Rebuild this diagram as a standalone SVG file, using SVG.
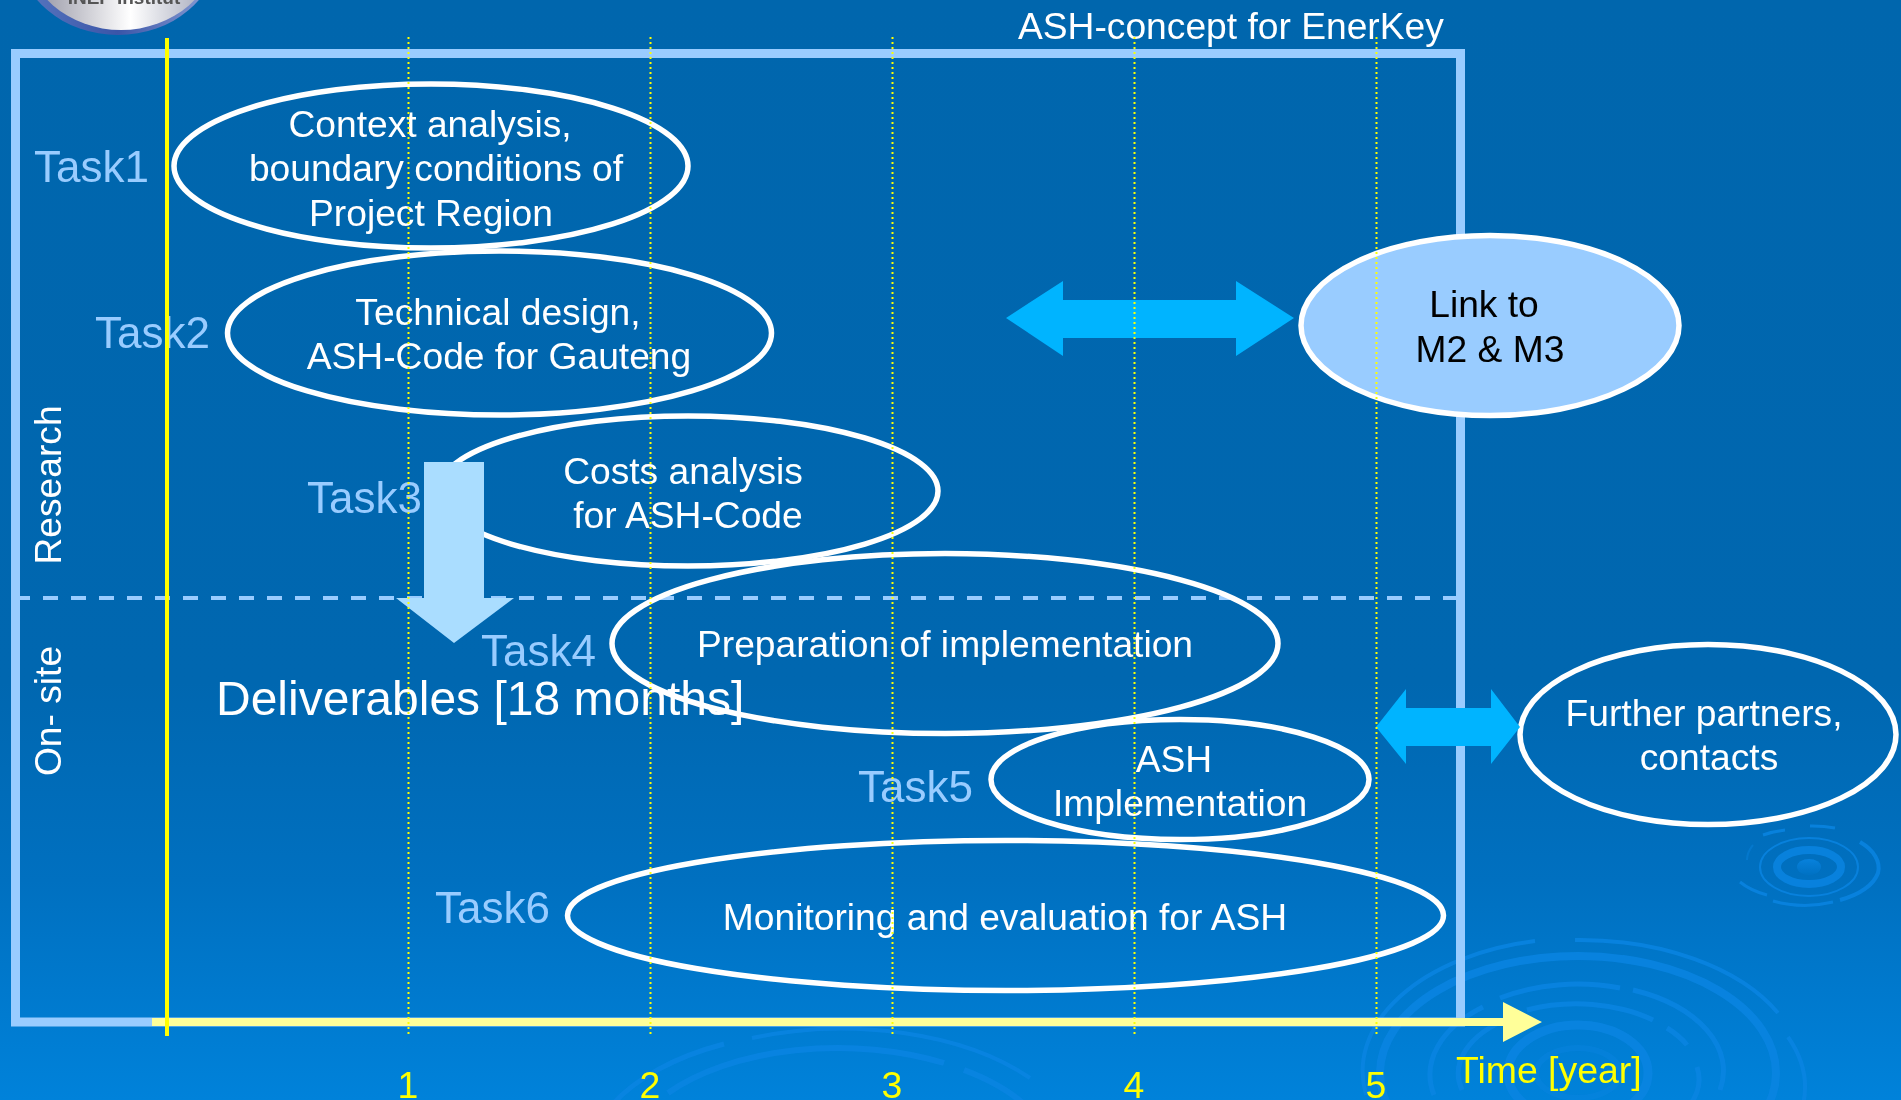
<svg xmlns="http://www.w3.org/2000/svg" width="1901" height="1100" viewBox="0 0 1901 1100">
<defs>
<linearGradient id="bg" x1="0" y1="0" x2="0" y2="1"><stop offset="0" stop-color="#0066ad"/><stop offset="0.62" stop-color="#0067b0"/><stop offset="0.8" stop-color="#0070c0"/><stop offset="1" stop-color="#0082da"/></linearGradient>
<linearGradient id="logoEdge" x1="0" y1="0" x2="1" y2="0"><stop offset="0" stop-color="#5a78c0"/><stop offset="0.5" stop-color="#3a55a8"/><stop offset="1" stop-color="#8fa3d8"/></linearGradient>
<linearGradient id="logoFace" x1="0" y1="0" x2="1" y2="0"><stop offset="0" stop-color="#8a8a9a"/><stop offset="0.55" stop-color="#ffffff"/><stop offset="1" stop-color="#9a9eb2"/></linearGradient>
<linearGradient id="ripDisc" x1="0" y1="0" x2="0" y2="1"><stop offset="0" stop-color="#0a85e2"/><stop offset="1" stop-color="#0072c4"/></linearGradient>
</defs>
<style>
text{font-family:"Liberation Sans",Arial,sans-serif}
.t{font-size:37.200px;fill:#fff;text-anchor:middle}
.task{font-size:44px;fill:#99ccff}
.e{fill:none;stroke:#fff;stroke-width:5.500}
.dot{stroke:#ffff00;stroke-width:2;stroke-dasharray:2 3;fill:none}
.y{font-size:37.400px;fill:#ffff00}
.r{fill:none;stroke:#0a85e2}
</style>
<rect width="1901" height="1100" fill="url(#bg)"/>
<g id="ripples" opacity=".85">
<ellipse cx="1809" cy="867" rx="12" ry="8" fill="url(#ripDisc)"/>
<ellipse class="r" cx="1809" cy="867" rx="32" ry="17" stroke-width="8"/>
<ellipse class="r" cx="1809" cy="867" rx="49" ry="29" stroke-width="2"/>
<path class="r" stroke-width="4" d="M1860,842 A70,38 0 0 1 1878,873 A70,38 0 0 1 1840,900"/>
<path class="r" stroke-width="3" d="M1740,882 A70,38 0 0 0 1767,895 M1773,901 A70,38 0 0 0 1833,902 M1810,826 A70,38 0 0 1 1835,828 M1763,835 A70,38 0 0 1 1785,830"/>
<path class="r" stroke-width="2" opacity=".5" d="M1747,860 A65,36 0 0 1 1753,845"/>
<ellipse cx="1578" cy="1073" rx="42" ry="25" fill="none" stroke="#0a85e2" stroke-width="6" opacity=".5"/>
<ellipse class="r" cx="1578" cy="1073" rx="70" ry="48" stroke-width="9"/>
<ellipse class="r" cx="1578" cy="1073" rx="198" ry="117" stroke-width="8"/>
<path class="r" stroke-width="5" d="M1527,1010 A118,67 0 0 1 1653,1020 M1667,1028 A118,67 0 0 1 1687,1045 M1697,1067 A118,67 0 0 1 1690,1105 M1510,1018 A118,67 0 0 0 1462,1090"/>
<path class="r" stroke-width="5" d="M1500,998 A143,87 0 0 1 1620,988 M1633,990 A143,87 0 0 1 1720,1090 M1483,1007 A143,87 0 0 0 1434,1095"/>
<path class="r" stroke-width="4" d="M1575,940 A222,133 0 0 1 1778,1013 M1535,941 A215,133 0 0 0 1366,1095 M1788,1037 A228,133 0 0 1 1803,1105"/>
<path class="r" stroke-width="6" d="M668,1093 A212,112 0 0 1 944,1063 M964,1070 A212,112 0 0 1 1025,1105"/>
<path class="r" stroke-width="4" d="M752,1038 A240,130 0 0 1 1030,1078"/>
<path class="r" stroke-width="5" d="M724,1044 A240,130 0 0 0 612,1105"/>
</g>
<g id="logo">
<ellipse cx="118" cy="-50" rx="100" ry="85" fill="url(#logoEdge)"/>
<ellipse cx="121" cy="-54" rx="96" ry="84" fill="url(#logoFace)"/>
<text x="124" y="4" font-size="19" font-weight="bold" fill="#555" text-anchor="middle">INEP Institut</text>
</g>
<text id="title" x="1018" y="39" font-size="37.200" fill="#fff">ASH-concept for EnerKey</text>
<rect id="frame" x="15.500" y="53.500" width="1445" height="968.500" fill="none" stroke="#99ccff" stroke-width="9"/>
<g id="side-labels">
<text transform="translate(61 485) rotate(-90)" class="t">Research</text>
<text transform="translate(61 711) rotate(-90)" class="t">On- site</text>
</g>
<g id="connectors">
<line x1="15" y1="598" x2="1460" y2="598" stroke="#99ccff" stroke-width="4" stroke-dasharray="15 13"/>
</g>
<g id="task1"><ellipse class="e" cx="431" cy="166" rx="257" ry="82"/><text class="task" x="34" y="182">Task1</text><text class="t" x="430" y="137">Context analysis,</text><text class="t" x="436" y="181">boundary conditions of</text><text class="t" x="431" y="226">Project Region</text></g>
<g id="task2"><ellipse class="e" cx="499.500" cy="333" rx="272" ry="82"/><text class="task" x="95" y="348">Task2</text><text class="t" x="498" y="325">Technical design,</text><text class="t" x="499" y="369">ASH-Code for Gauteng</text></g>
<g id="task3"><ellipse class="e" cx="688" cy="491" rx="250" ry="75"/><text class="task" x="307" y="513">Task3</text><text class="t" x="683" y="484">Costs analysis</text><text class="t" x="688" y="528">for ASH-Code</text></g>
<g id="task4"><ellipse class="e" cx="945" cy="643.500" rx="333" ry="90"/><text class="task" x="481" y="666">Task4</text><text class="t" x="945" y="657">Preparation of implementation</text></g>
<g id="task5"><ellipse class="e" cx="1180" cy="779.500" rx="189" ry="60"/><text class="task" x="858" y="802">Task5</text><text class="t" x="1174" y="772">ASH</text><text class="t" x="1180" y="816">Implementation</text></g>
<g id="task6"><ellipse class="e" cx="1005.500" cy="915.500" rx="438" ry="75"/><text class="task" x="435" y="923">Task6</text><text class="t" x="1005" y="930">Monitoring and evaluation for ASH</text></g>
<g id="link"><ellipse cx="1490" cy="325.500" rx="189" ry="90" fill="#99ccff" stroke="#fff" stroke-width="5.500"/><text class="t" style="fill:#000" x="1484" y="317">Link to</text><text class="t" style="fill:#000" x="1490" y="362">M2 &amp; M3</text></g>
<g id="further"><ellipse class="e" cx="1708" cy="734.500" rx="188" ry="90"/><text class="t" x="1704" y="726">Further partners,</text><text class="t" x="1709" y="770">contacts</text></g>
<text id="deliverables" x="216" y="715" font-size="48" fill="#fff">Deliverables [18 months]</text>
<g id="arrows">
<polygon fill="#00b4ff" points="1006,318 1063,281 1063,300 1236,300 1236,281 1294,318 1236,356 1236,338 1063,338 1063,356"/>
<polygon fill="#00b4ff" points="1376,727 1406,689 1406,708 1491,708 1491,689 1520,727 1491,764 1491,746 1406,746 1406,764"/>
<polygon fill="#aaddff" points="424,462 484,462 484,598 514,598 454,643 396,598 424,598"/>
<polygon fill="#ffff99" points="152,1018 1503,1018 1503,1002 1542,1022 1503,1042 1503,1026 152,1026"/>
<line x1="167" y1="38" x2="167" y2="1036" stroke="#ffff00" stroke-width="4"/>
</g>
<g id="grid">
<line class="dot" x1="408.500" y1="37" x2="408.500" y2="1036"/>
<line class="dot" x1="650.500" y1="37" x2="650.500" y2="1036"/>
<line class="dot" x1="892.500" y1="37" x2="892.500" y2="1036"/>
<line class="dot" x1="1134.500" y1="37" x2="1134.500" y2="1036"/>
<line class="dot" x1="1376.500" y1="37" x2="1376.500" y2="1036"/>
</g>
<g id="axis-labels">
<text class="y" x="408" y="1098" text-anchor="middle">1</text>
<text class="y" x="650" y="1098" text-anchor="middle">2</text>
<text class="y" x="892" y="1098" text-anchor="middle">3</text>
<text class="y" x="1134" y="1098" text-anchor="middle">4</text>
<text class="y" x="1376" y="1098" text-anchor="middle">5</text>
<text class="y" x="1456" y="1083">Time [year]</text>
</g>
</svg>
